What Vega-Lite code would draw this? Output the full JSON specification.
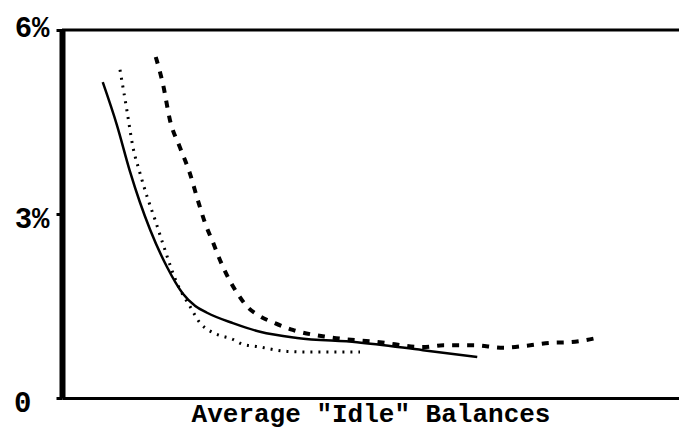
{
  "$schema": "https://vega.github.io/schema/vega-lite/v6.json",
  "width": 617,
  "height": 368,
  "autosize": {"type": "none"},
  "padding": {"left": 62, "top": 30, "right": 0, "bottom": 31},
  "background": "white",
  "config": {"view": {"stroke": null}, "font": "Liberation Mono"},
  "datasets": {
    "curves": [
      {"series": "solid", "balance": 6.6, "rate": 5.15},
      {"series": "solid", "balance": 8.9, "rate": 4.45},
      {"series": "solid", "balance": 11.0, "rate": 3.70},
      {"series": "solid", "balance": 12.6, "rate": 3.20},
      {"series": "solid", "balance": 14.3, "rate": 2.74},
      {"series": "solid", "balance": 17.0, "rate": 2.14},
      {"series": "solid", "balance": 19.6, "rate": 1.70},
      {"series": "solid", "balance": 21.6, "rate": 1.50},
      {"series": "solid", "balance": 23.5, "rate": 1.39},
      {"series": "solid", "balance": 27.7, "rate": 1.22},
      {"series": "solid", "balance": 32.1, "rate": 1.08},
      {"series": "solid", "balance": 38.1, "rate": 0.98},
      {"series": "solid", "balance": 47.8, "rate": 0.91},
      {"series": "solid", "balance": 58.5, "rate": 0.78},
      {"series": "solid", "balance": 67.3, "rate": 0.67},
      {"series": "dotted", "balance": 9.4, "rate": 5.35},
      {"series": "dotted", "balance": 10.5, "rate": 4.70},
      {"series": "dotted", "balance": 11.5, "rate": 4.09},
      {"series": "dotted", "balance": 12.6, "rate": 3.68},
      {"series": "dotted", "balance": 13.8, "rate": 3.28},
      {"series": "dotted", "balance": 15.1, "rate": 2.90},
      {"series": "dotted", "balance": 16.4, "rate": 2.50},
      {"series": "dotted", "balance": 18.6, "rate": 1.88},
      {"series": "dotted", "balance": 20.7, "rate": 1.50},
      {"series": "dotted", "balance": 22.4, "rate": 1.22},
      {"series": "dotted", "balance": 23.7, "rate": 1.11},
      {"series": "dotted", "balance": 25.3, "rate": 1.03},
      {"series": "dotted", "balance": 27.6, "rate": 0.96},
      {"series": "dotted", "balance": 29.2, "rate": 0.88},
      {"series": "dotted", "balance": 31.6, "rate": 0.84},
      {"series": "dotted", "balance": 36.5, "rate": 0.76},
      {"series": "dotted", "balance": 40.2, "rate": 0.75},
      {"series": "dotted", "balance": 45.5, "rate": 0.75},
      {"series": "dotted", "balance": 48.3, "rate": 0.75},
      {"series": "dashed", "balance": 15.2, "rate": 5.56},
      {"series": "dashed", "balance": 16.4, "rate": 5.10},
      {"series": "dashed", "balance": 17.5, "rate": 4.53},
      {"series": "dashed", "balance": 19.1, "rate": 4.09},
      {"series": "dashed", "balance": 20.7, "rate": 3.67},
      {"series": "dashed", "balance": 22.0, "rate": 3.23},
      {"series": "dashed", "balance": 23.2, "rate": 2.85},
      {"series": "dashed", "balance": 24.5, "rate": 2.53},
      {"series": "dashed", "balance": 25.6, "rate": 2.25},
      {"series": "dashed", "balance": 26.9, "rate": 1.97},
      {"series": "dashed", "balance": 28.4, "rate": 1.71},
      {"series": "dashed", "balance": 30.1, "rate": 1.48},
      {"series": "dashed", "balance": 31.8, "rate": 1.35},
      {"series": "dashed", "balance": 34.5, "rate": 1.22},
      {"series": "dashed", "balance": 37.4, "rate": 1.11},
      {"series": "dashed", "balance": 43.4, "rate": 0.99},
      {"series": "dashed", "balance": 51.5, "rate": 0.91},
      {"series": "dashed", "balance": 58.5, "rate": 0.83},
      {"series": "dashed", "balance": 61.8, "rate": 0.86},
      {"series": "dashed", "balance": 66.6, "rate": 0.86},
      {"series": "dashed", "balance": 71.5, "rate": 0.82},
      {"series": "dashed", "balance": 75.9, "rate": 0.86},
      {"series": "dashed", "balance": 79.1, "rate": 0.90},
      {"series": "dashed", "balance": 82.3, "rate": 0.91},
      {"series": "dashed", "balance": 87.2, "rate": 0.99}
    ],
    "frame": [{"rate": 6}]
  },
  "layer": [
    {
      "data": {"name": "curves"},
      "transform": [{"filter": "datum.series == 'solid'"}],
      "mark": {"type": "line", "color": "black", "strokeWidth": 2.5, "interpolate": "monotone"},
      "encoding": {
        "x": {"field": "balance", "type": "quantitative", "scale": {"domain": [0, 100], "nice": false},
          "axis": {"title": "Average \"Idle\" Balances", "labels": false, "ticks": false, "grid": false,
            "domainColor": "black", "domainWidth": 3, "titleFont": "Liberation Mono", "titleFontWeight": "bold",
            "titleFontSize": 26, "titleColor": "black", "titlePadding": 2}},
        "y": {"field": "rate", "type": "quantitative", "scale": {"domain": [0, 6], "nice": false},
          "axis": {"title": null, "values": [0, 3, 6], "grid": false,
            "labelExpr": "datum.value == 0 ? '0' : datum.value + '%'",
            "domainColor": "black", "domainWidth": 6, "tickColor": "black", "tickWidth": 3, "tickSize": 6,
            "labelFont": "Liberation Mono", "labelFontWeight": "bold", "labelFontSize": 29, "labelColor": "black",
            "labelPadding": {"condition": {"test": "datum.value == 0", "value": 25}, "value": 7},
            "labelOffset": {"condition": {"test": "datum.value == 6", "value": -3}, "value": 4}}}
      }
    },
    {
      "data": {"name": "curves"},
      "transform": [{"filter": "datum.series == 'dotted'"}],
      "mark": {"type": "line", "color": "black", "strokeWidth": 3, "strokeDash": [2, 6], "interpolate": "monotone"},
      "encoding": {
        "x": {"field": "balance", "type": "quantitative"},
        "y": {"field": "rate", "type": "quantitative"}
      }
    },
    {
      "data": {"name": "curves"},
      "transform": [{"filter": "datum.series == 'dashed'"}],
      "mark": {"type": "line", "color": "black", "strokeWidth": 4, "strokeDash": [7, 8], "interpolate": "monotone"},
      "encoding": {
        "x": {"field": "balance", "type": "quantitative"},
        "y": {"field": "rate", "type": "quantitative"}
      }
    },
    {
      "data": {"name": "frame"},
      "mark": {"type": "rule", "color": "black", "strokeWidth": 3},
      "encoding": {
        "y": {"field": "rate", "type": "quantitative"}
      }
    }
  ]
}
